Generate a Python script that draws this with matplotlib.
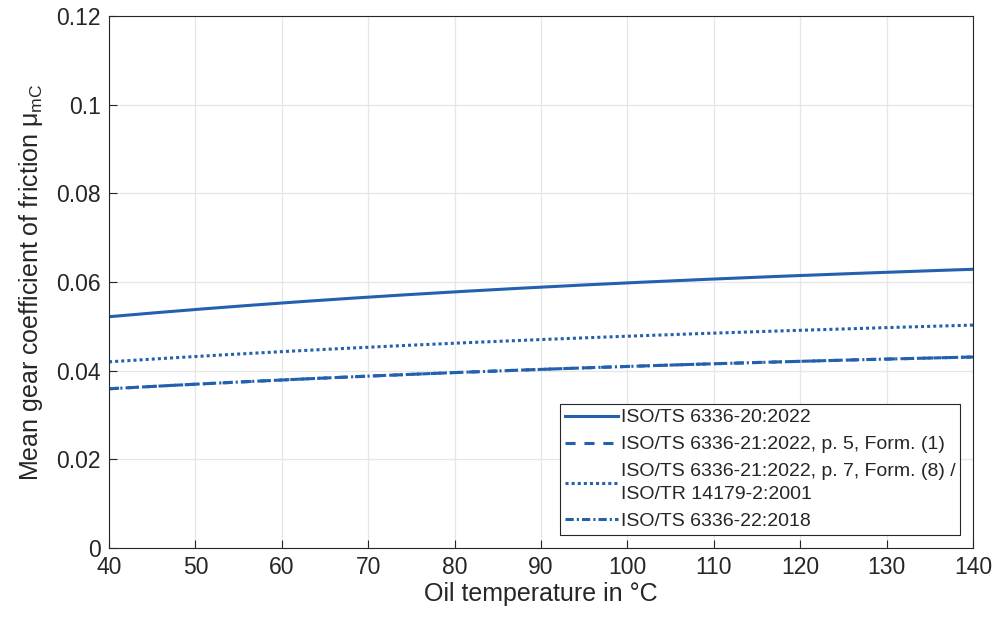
import numpy as np
import matplotlib
matplotlib.use("Agg")
import matplotlib.pyplot as plt

temperature = [40, 50, 60, 70, 80, 90, 100, 110, 120, 130, 140]
mu_iso20 = [0.0522, 0.0538, 0.0552, 0.0566, 0.0578, 0.0589, 0.0598, 0.0607, 0.0614, 0.0622, 0.0629]
mu_iso21_f1 = [0.0359, 0.0370, 0.0379, 0.0388, 0.0395, 0.0403, 0.0410, 0.0416, 0.0421, 0.0426, 0.0431]
mu_iso21_f8 = [0.0420, 0.0432, 0.0443, 0.0453, 0.0462, 0.0470, 0.0478, 0.0485, 0.0491, 0.0497, 0.0503]
mu_iso22 = [0.0359, 0.0370, 0.0379, 0.0388, 0.0395, 0.0403, 0.0410, 0.0416, 0.0421, 0.0426, 0.0431]

labels = ["ISO/TS 6336-20:2022",
          "ISO/TS 6336-21:2022, p. 5, Form. (1)",
          "ISO/TS 6336-21:2022, p. 7, Form. (8) /\nISO/TR 14179-2:2001",
          "ISO/TS 6336-22:2018"]
xticks = [40, 50, 60, 70, 80, 90, 100, 110, 120, 130, 140]
yticks = [0, 0.02, 0.04, 0.06, 0.08, 0.1, 0.12]
yticklabels = ["0", "0.02", "0.04", "0.06", "0.08", "0.1", "0.12"]

plt.rcParams['font.family'] = ['Liberation Sans', 'DejaVu Sans']
plt.rcParams['mathtext.fontset'] = 'custom'
plt.rcParams['mathtext.rm'] = 'Liberation Sans'
col = '#2361ae'
txt = '#262626'

fig = plt.figure(figsize=(10.05, 6.17), dpi=100)
ax = fig.add_axes([0.1085, 0.1118, 0.8597, 0.8622])

# smooth curves through the read points
xs = np.linspace(40, 140, 201)
def smooth(y):
    c = np.polyfit(temperature, y, 3)
    return np.polyval(c, xs)

lw = 2.2
ax.plot(xs, smooth(mu_iso20), color=col, lw=lw, ls='-', label=labels[0])
ax.plot(xs, smooth(mu_iso21_f1), color=col, lw=lw, ls=(0, (3.3, 2.9)), label=labels[1])
ax.plot(xs, smooth(mu_iso21_f8), color=col, lw=lw, ls=(0, (1, 1)), label=labels[2])
ax.plot(xs, smooth(mu_iso22), color=col, lw=lw, ls=(0, (2.7, 1.0, 0.7, 1.0)), label=labels[3])

ax.set_xlim(40, 140)
ax.set_ylim(0, 0.12)
ax.set_xticks(xticks)
ax.set_yticks(yticks)
ax.set_yticklabels(yticklabels)
ax.grid(True, color='#e6e6e6', lw=0.9)
ax.set_axisbelow(True)
ax.tick_params(direction='in', length=6, width=0.8, colors=txt, labelsize=16.5, pad=6,
               top=False, right=False)
for s in ax.spines.values():
    s.set_color(txt)
    s.set_linewidth(0.8)

ax.set_xlabel("Oil temperature in °C", fontsize=18, color=txt, labelpad=2)
ax.set_ylabel(r"Mean gear coefficient of friction $\mathregular{\mu_{mC}}$", fontsize=18, color=txt, labelpad=8)

leg = ax.legend(loc='lower right', bbox_to_anchor=(0.985, 0.0244), fontsize=14, handlelength=2.7,
                handletextpad=0.15, borderpad=0.25, labelspacing=0.48, fancybox=False,
                framealpha=1, edgecolor=txt, borderaxespad=0)
leg.get_frame().set_linewidth(0.8)
for t in leg.get_texts():
    t.set_color(txt)
    t.set_linespacing(1.5)

fig.savefig("out.png", dpi=100)
